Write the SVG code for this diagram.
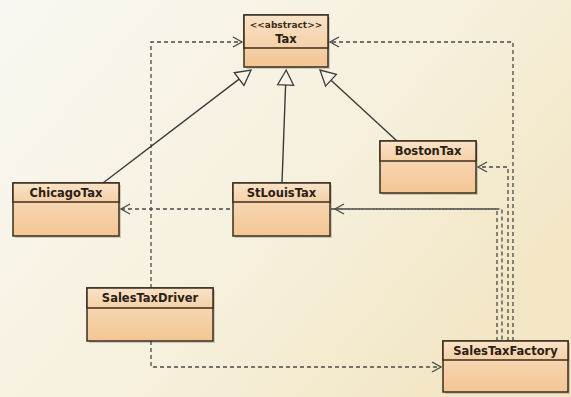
<svg xmlns="http://www.w3.org/2000/svg" width="571" height="397" viewBox="0 0 571 397">
<defs>
<linearGradient id="bg" x1="0" y1="0" x2="1" y2="0.6">
<stop offset="0" stop-color="#f9f7f1"/>
<stop offset="0.6" stop-color="#f6f0dd"/>
<stop offset="1" stop-color="#f2e6c4"/>
</linearGradient>
<linearGradient id="body" x1="0" y1="0" x2="0" y2="1">
<stop offset="0" stop-color="#f9dfc2"/>
<stop offset="1" stop-color="#f3c693"/>
</linearGradient>
<linearGradient id="head" x1="0" y1="0" x2="0" y2="1">
<stop offset="0" stop-color="#fae3c8"/>
<stop offset="1" stop-color="#f5d0a6"/>
</linearGradient>
<marker id="open" viewBox="-10 -6 12 12" refX="0" refY="0" markerWidth="12" markerHeight="12" markerUnits="userSpaceOnUse" orient="auto">
<path d="M-9,-5 L0,0 L-9,5" fill="none" stroke="#4a4a4a" stroke-width="1.3"/>
</marker>
<marker id="tri" viewBox="-1 -10 18 20" refX="0" refY="0" markerWidth="18" markerHeight="20" markerUnits="userSpaceOnUse" orient="auto">
<path d="M0,-8 L15,0 L0,8 Z" fill="#f7f3e6" stroke="#3a3a3a" stroke-width="1.3"/>
</marker>
</defs>
<style>
.box{fill:url(#body);stroke:#3b2e1e;stroke-width:1.5}
.hd{fill:url(#head);stroke:#3b2e1e;stroke-width:1.5}
.sh{fill:#000;opacity:0.16}
.t{font-family:"DejaVu Sans",sans-serif;font-weight:bold;font-size:11.5px;fill:#2a2015;text-anchor:middle}
.st{font-family:"DejaVu Sans",sans-serif;font-weight:bold;font-size:9px;fill:#3a2e20;text-anchor:middle}
.dep{fill:none;stroke:#4a4a4a;stroke-width:1.3;stroke-dasharray:4,3}
.gen{fill:none;stroke:#3a3a3a;stroke-width:1.4}
</style>
<rect width="571" height="397" fill="url(#bg)"/>
<g id="connectors">
<path class="dep" d="M151,288 V42 H242" marker-end="url(#open)"/>
<path class="dep" d="M151,341 V367 H441" marker-end="url(#open)"/>
<path class="dep" d="M513,341 V42 H330" marker-end="url(#open)"/>
<path class="dep" d="M508,341 V167 H478" marker-end="url(#open)"/>
<path class="dep" d="M497,341 V209 H121" marker-end="url(#open)"/>
<path class="dep" d="M502,341 V209 H335" stroke-dashoffset="5.5" marker-end="url(#open)"/>
<path class="gen" d="M103,183 L239.1,79.1" marker-end="url(#tri)"/>
<path class="gen" d="M282,183 L285.6,85" marker-end="url(#tri)"/>
<path class="gen" d="M397,141 L331,80.2" marker-end="url(#tri)"/>
</g>
<g id="Tax">
<rect class="sh" x="246" y="17" width="84" height="52"/>
<rect class="box" x="244" y="15" width="84" height="52"/>
<rect class="hd" x="244" y="15" width="84" height="33"/>
<text class="st" x="286" y="28">&lt;&lt;abstract&gt;&gt;</text>
<text class="t" x="286" y="43">Tax</text>
</g>
<g id="ChicagoTax">
<rect class="sh" x="15" y="185" width="106" height="53"/>
<rect class="box" x="13" y="183" width="106" height="53"/>
<rect class="hd" x="13" y="183" width="106" height="19"/>
<text class="t" x="66" y="197">ChicagoTax</text>
</g>
<g id="StLouisTax">
<rect class="sh" x="235" y="185" width="97" height="53"/>
<rect class="box" x="233" y="183" width="97" height="53"/>
<rect class="hd" x="233" y="183" width="97" height="19"/>
<text class="t" x="281.5" y="197">StLouisTax</text>
</g>
<g id="BostonTax">
<rect class="sh" x="382" y="143" width="96" height="52"/>
<rect class="box" x="380" y="141" width="96" height="52"/>
<rect class="hd" x="380" y="141" width="96" height="20"/>
<text class="t" x="428" y="155">BostonTax</text>
</g>
<g id="SalesTaxDriver">
<rect class="sh" x="89" y="290" width="126" height="53"/>
<rect class="box" x="87" y="288" width="126" height="53"/>
<rect class="hd" x="87" y="288" width="126" height="20"/>
<text class="t" x="150" y="302">SalesTaxDriver</text>
</g>
<g id="SalesTaxFactory">
<rect class="sh" x="445" y="343" width="125" height="51"/>
<rect class="box" x="443" y="341" width="125" height="51"/>
<rect class="hd" x="443" y="341" width="125" height="19"/>
<text class="t" x="505.5" y="355">SalesTaxFactory</text>
</g>
</svg>
